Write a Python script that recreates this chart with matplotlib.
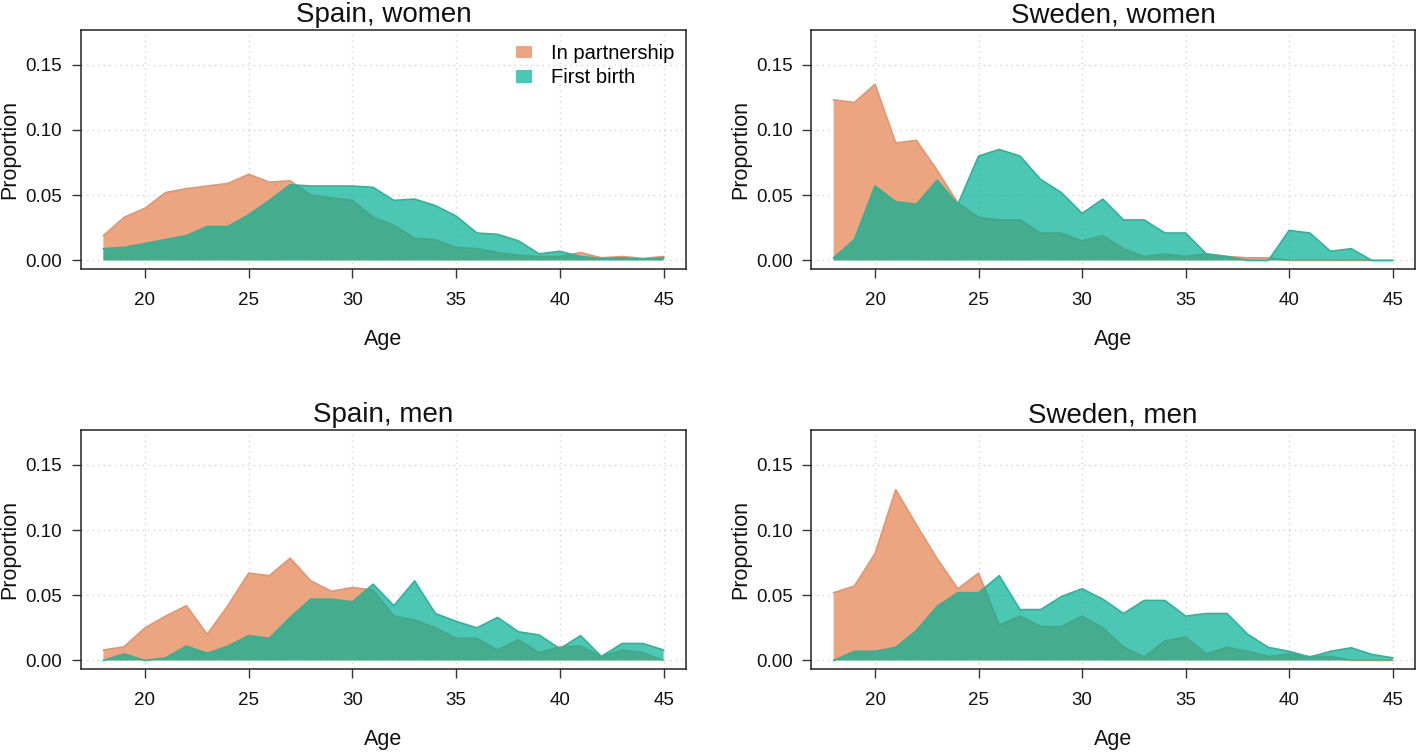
import matplotlib
matplotlib.use("Agg")
import matplotlib.pyplot as plt
from matplotlib.patches import Patch

plt.rcParams['font.family'] = ['Liberation Sans', 'DejaVu Sans']

ages = list(range(18, 46))

spain_women_partner = [0.019, 0.033, 0.040, 0.052, 0.055, 0.057, 0.059, 0.066, 0.060, 0.061,
                       0.050, 0.048, 0.046, 0.033, 0.027, 0.017, 0.016, 0.010, 0.009, 0.006,
                       0.004, 0.003, 0.003, 0.006, 0.002, 0.003, 0.0015, 0.003]
spain_women_birth = [0.009, 0.010, 0.013, 0.016, 0.019, 0.026, 0.026, 0.035, 0.046, 0.058,
                     0.057, 0.057, 0.057, 0.056, 0.046, 0.047, 0.042, 0.034, 0.021, 0.020,
                     0.015, 0.005, 0.007, 0.003, 0.0015, 0.002, 0.001, 0.002]

sweden_women_partner = [0.123, 0.121, 0.135, 0.090, 0.092, 0.069, 0.044, 0.033, 0.031, 0.031,
                        0.021, 0.021, 0.015, 0.019, 0.009, 0.003, 0.005, 0.003, 0.005, 0.003,
                        0.002, 0.002, 0.0, 0.0, 0.0, 0.0, 0.0, 0.0]
sweden_women_birth = [0.002, 0.016, 0.057, 0.045, 0.043, 0.0615, 0.043, 0.080, 0.085, 0.080,
                      0.062, 0.052, 0.036, 0.047, 0.031, 0.031, 0.021, 0.021, 0.005, 0.003,
                      0.0, 0.0, 0.023, 0.021, 0.007, 0.009, 0.0, 0.0]

spain_men_partner = [0.008, 0.0105, 0.025, 0.034, 0.042, 0.020, 0.042, 0.067, 0.065, 0.0785,
                     0.061, 0.053, 0.056, 0.054, 0.034, 0.031, 0.025, 0.017, 0.017, 0.008,
                     0.016, 0.006, 0.0105, 0.011, 0.003, 0.008, 0.006, 0.0]
spain_men_birth = [0.0, 0.005, 0.0, 0.002, 0.011, 0.0055, 0.011, 0.019, 0.017, 0.033,
                   0.047, 0.047, 0.045, 0.0585, 0.042, 0.061, 0.036, 0.030, 0.025, 0.033,
                   0.022, 0.0195, 0.009, 0.019, 0.003, 0.013, 0.013, 0.008]

sweden_men_partner = [0.052, 0.057, 0.082, 0.131, 0.104, 0.078, 0.055, 0.067, 0.027, 0.034,
                      0.026, 0.026, 0.034, 0.025, 0.0105, 0.0026, 0.015, 0.018, 0.005, 0.010,
                      0.007, 0.003, 0.005, 0.003, 0.003, 0.0, 0.0, 0.0]
sweden_men_birth = [0.0, 0.007, 0.007, 0.010, 0.023, 0.0415, 0.052, 0.052, 0.065, 0.039,
                    0.039, 0.049, 0.055, 0.047, 0.036, 0.046, 0.046, 0.034, 0.036, 0.036,
                    0.020, 0.010, 0.007, 0.0026, 0.007, 0.0097, 0.0046, 0.002]

titles = ["Spain, women", "Sweden, women", "Spain, men", "Sweden, men"]
partner_series = [spain_women_partner, sweden_women_partner, spain_men_partner, sweden_men_partner]
birth_series = [spain_women_birth, sweden_women_birth, spain_men_birth, sweden_men_birth]
legend_labels = ["In partnership", "First birth"]
x_ticks = [20, 25, 30, 35, 40, 45]
y_ticks = [0.00, 0.05, 0.10, 0.15]

orange_fill = '#EBA580'
orange_edge = '#E8946A'
teal_fill = '#00B094'
teal_alpha = 0.7
teal_edge = '#22B89E'

W, H = 1416, 752
fig = plt.figure(figsize=(W / 100, H / 100), dpi=100)

boxes = [  # left, top, right, bottom in pixels
    (81, 29.7, 686, 269.3),
    (811.3, 29.7, 1415, 269.3),
    (81, 430, 686, 669.3),
    (811.3, 430, 1415, 669.3),
]

for i, (l, t, r, b) in enumerate(boxes):
    ax = fig.add_axes([l / W, 1 - b / H, (r - l) / W, (b - t) / H])
    ax.set_xlim(16.92, 46.08)
    ax.set_ylim(-0.0068, 0.1768)
    ax.set_xticks(x_ticks)
    ax.set_yticks(y_ticks)
    ax.set_yticklabels([f"{v:.2f}" for v in y_ticks])
    ax.grid(True, linestyle=(0, (1, 3)), color='#d3d3d3', linewidth=1.0)
    ax.set_axisbelow(True)
    ax.fill_between(ages, 0, partner_series[i], facecolor=orange_fill, edgecolor='none', zorder=2)
    ax.plot(ages, partner_series[i], color=orange_edge, lw=1.2, zorder=2.1)
    ax.fill_between(ages, 0, birth_series[i], facecolor=teal_fill, alpha=teal_alpha,
                    edgecolor='none', zorder=3)
    ax.plot(ages, birth_series[i], color=teal_edge, lw=1.2, zorder=3.1)
    for s in ax.spines.values():
        s.set_color('#222222')
        s.set_linewidth(1.1)
    ax.tick_params(axis='both', direction='out', length=6.5, width=1.0, color='#333333',
                   labelsize=13.5, labelcolor='#111111')
    ax.tick_params(axis='y', pad=7)
    ax.tick_params(axis='x', pad=10)
    h = b - t
    ax.set_xlabel("Age", fontsize=15.5, color='#111111')
    ax.xaxis.set_label_coords(0.5, -(339 - 269.3) / h)
    ax.xaxis.label.set_va('center')
    ax.set_ylabel("Proportion", fontsize=15.5, color='#111111')
    ax.yaxis.set_label_coords(-71 / (r - l), 0.5)
    ax.yaxis.label.set_va('center')
    ax.text(0.5, 1 + (29.7 - 22) / h, titles[i], transform=ax.transAxes,
            ha='center', va='baseline', fontsize=20, color='#111111')
    if i == 0:
        handles = [Patch(facecolor=orange_fill, edgecolor='none'),
                   Patch(facecolor=teal_fill, alpha=teal_alpha, edgecolor='none')]
        ax.legend(handles, legend_labels, loc='upper right', bbox_to_anchor=(1.0, 0.99),
                  frameon=False, fontsize=14.5, handlelength=0.8, handleheight=0.6,
                  handletextpad=0.9, labelspacing=0.25, borderaxespad=0.2)

fig.savefig("out.png", dpi=100, facecolor='white')
